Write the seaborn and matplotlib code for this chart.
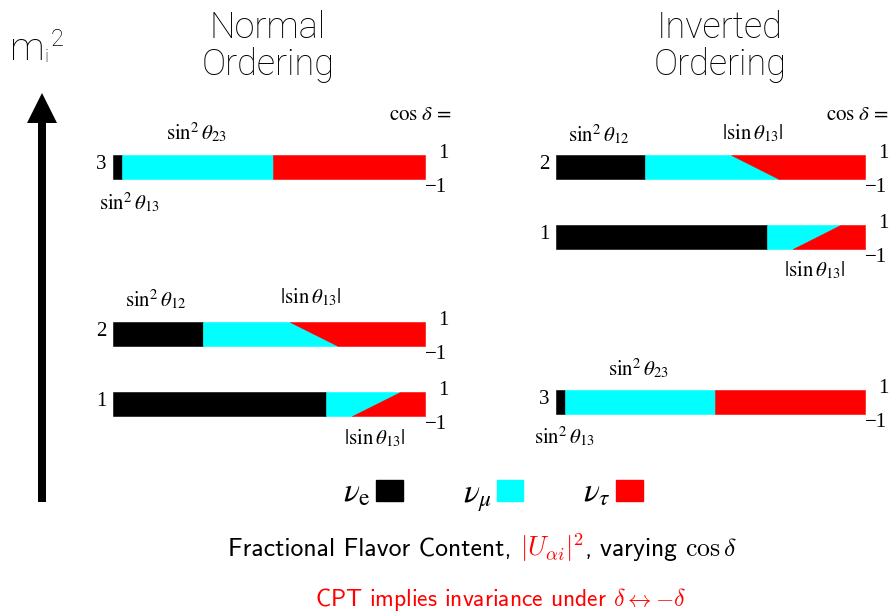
import numpy as np
import matplotlib
matplotlib.use("Agg")
import matplotlib.pyplot as plt
import seaborn as sns
from matplotlib.patches import Patch

sns.set_theme(style="white")
plt.rcParams['font.family'] = ['Liberation Serif', 'DejaVu Serif']
plt.rcParams['mathtext.fontset'] = 'stix'
plt.rcParams['text.color'] = 'black'

# flavor content of each mass state, at cos(delta) = +1 and -1
states = ['1', '2', '3']
nu_e = [0.683, 0.288, 0.029]
nu_mu_cos_plus = [0.237, 0.279, 0.484]
nu_mu_cos_minus = [0.083, 0.433, 0.484]
cos_delta = [-1, 1]

flavor_names = [r'$\nu_{\rm e}$', r'$\nu_\mu$', r'$\nu_\tau$']
flavor_colors = ['black', 'cyan', 'red']

W, H = 891, 612
fig = plt.figure(figsize=(W / 100, H / 100), dpi=100)
canvas = fig.add_axes([0, 0, 1, 1])
canvas.set_xlim(0, W)
canvas.set_ylim(H, 0)
canvas.axis('off')

# bar boxes in pixels: (left, right, top) ; height is the same for all
bar_h = 24
layout = {
    'normal': {'3': (113, 425, 155), '2': (113, 425, 322), '1': (113, 425, 392)},
    'inverted': {'2': (556, 865, 155), '1': (556, 865, 225), '3': (556, 865, 390)},
}

lab_fs = 15


def draw_bar(x0, x1, top, i):
    ax = fig.add_axes([x0 / W, 1 - (top + bar_h) / H, (x1 - x0) / W, bar_h / H])
    e = nu_e[i]
    mu = np.array([nu_mu_cos_minus[i], nu_mu_cos_plus[i]])
    ax.fill_betweenx(cos_delta, 0, e, color=flavor_colors[0], lw=0.4)
    ax.fill_betweenx(cos_delta, e, e + mu, color=flavor_colors[1], lw=0.4)
    ax.fill_betweenx(cos_delta, e + mu, 1, color=flavor_colors[2], lw=0.4)
    ax.set_xlim(0, 1)
    ax.set_ylim(-1, 1)
    ax.axis('off')
    ax.annotate(states[i], xy=(0, 0.5), xycoords='axes fraction', xytext=(-5, 2),
                textcoords='offset points', ha='right', va='center', fontsize=lab_fs)
    ax.annotate('1', xy=(1, 1), xycoords='axes fraction', xytext=(13, 1),
                textcoords='offset points', ha='center', va='center', fontsize=lab_fs)
    ax.annotate('\u22121', xy=(1, 0), xycoords='axes fraction', xytext=(8, -6),
                textcoords='offset points', ha='center', va='center', fontsize=lab_fs)
    return ax


for order, bars in layout.items():
    for st, (x0, x1, top) in bars.items():
        draw_bar(x0, x1, top, states.index(st))

s23 = r'$\sin^2\theta_{23}$'
s13 = r'$\sin^2\theta_{13}$'
s12 = r'$\sin^2\theta_{12}$'
a13 = r'$|\sin\theta_{13}|$'
labels = [
    (196, 133, s23), (129, 203, s13), (156, 300, s12), (311, 297, a13), (375, 438, a13),
    (599, 135, s12), (753, 133, a13), (815, 270, a13), (638, 369, s23), (564, 437, s13),
]
for x, y, t in labels:
    canvas.text(x, y, t, ha='center', va='center', fontsize=lab_fs)

canvas.text(452, 116, r'$\cos\,\delta\,=$', ha='right', va='center', fontsize=lab_fs)
canvas.text(889, 116, r'$\cos\,\delta\,=$', ha='right', va='center', fontsize=lab_fs)

# titles
sans = ['Roboto', 'Liberation Sans', 'DejaVu Sans']
canvas.text(268, 75, 'Normal\nOrdering', ha='center', va='baseline', fontsize=26,
            family=sans, fontweight='light', linespacing=1.05)
canvas.text(720, 75, 'Inverted\nOrdering', ha='center', va='baseline', fontsize=26,
            family=sans, fontweight='light', linespacing=1.05)
canvas.text(10, 60, 'm', ha='left', va='baseline', fontsize=28, family=sans, fontweight='light')
canvas.text(44, 62, 'i', ha='left', va='baseline', fontsize=14, family=sans, fontweight='light')
canvas.text(51, 46, '2', ha='left', va='baseline', fontsize=17, family=sans, fontweight='light')

# mass axis arrow
canvas.arrow(42, 502, 0, -409, width=8, head_width=30, head_length=30,
             length_includes_head=True, color='black', lw=0)

# legend
handles = [Patch(facecolor=c, edgecolor=c) for c in flavor_colors]
fig.legend(handles, flavor_names, loc='center', bbox_to_anchor=(493 / W, 1 - 496 / H),
           ncol=3, frameon=False, markerfirst=False, fontsize=24,
           handlelength=0.8, handleheight=0.6, handletextpad=0.15, columnspacing=1.8)

# caption with coloured middle piece
fig.canvas.draw()
r = fig.canvas.get_renderer()
cap_y = 556
mid = canvas.text(552, cap_y, r'$|U_{\alpha i}|^2$', color='red', ha='center', va='baseline',
                  fontsize=19, math_fontfamily='cm')
bb = mid.get_window_extent(r).transformed(canvas.transData.inverted())
canvas.text(bb.x0, cap_y, 'Fractional Flavor Content, ', ha='right', va='baseline',
            fontsize=18.5, family='cmss10')
canvas.text(bb.x1, cap_y, r', varying $\cos\delta$', ha='left', va='baseline',
            fontsize=18.5, family='cmss10', math_fontfamily='cm')

canvas.text(501, 606, r'CPT implies invariance under $\delta\leftrightarrow{-\delta}$', color='red',
            ha='center', va='baseline', fontsize=17, family='cmss10', math_fontfamily='cm')

fig.savefig('out.png', dpi=100)
